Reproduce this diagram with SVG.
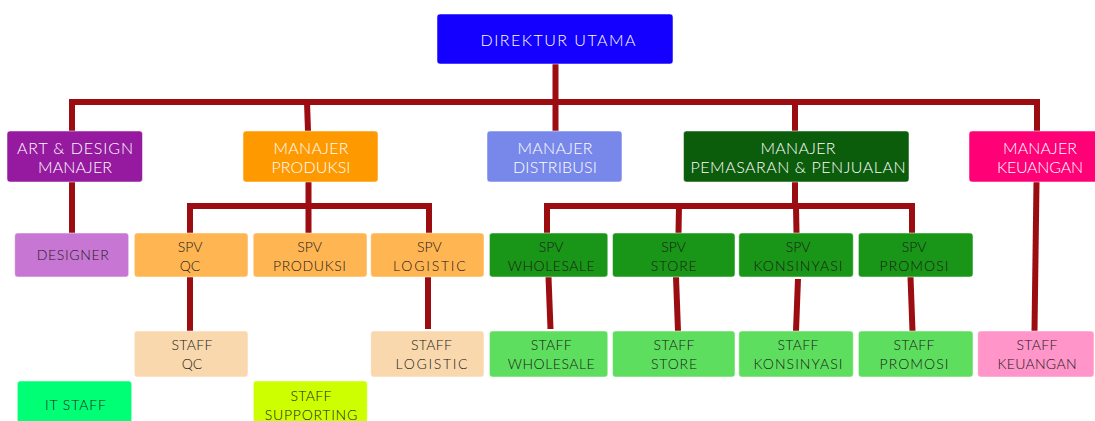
<svg xmlns="http://www.w3.org/2000/svg" width="1095" height="421" viewBox="0 0 1095 421">
<style>
.b{stroke:#ffffff;stroke-opacity:0.5;stroke-width:1}
.tw{font-family:Lato,"Liberation Sans",sans-serif;font-size:16px;font-weight:300;fill:#ffffff;text-anchor:middle}
.td{font-family:Lato,"Liberation Sans",sans-serif;font-size:14px;font-weight:300;fill:#1a1a1a;text-anchor:middle}
.c{fill:none;stroke:#9c0d12;stroke-width:6;stroke-linejoin:miter}
</style>
<rect width="1095" height="421" fill="#ffffff"/>
<g id="connectors">
<path class="c" d="M555.5,64 V102"/>
<path class="c" d="M72,131 V102 H1037 V131"/>
<path class="c" d="M307,102 L308,131"/>
<path class="c" d="M555.5,102 V131"/>
<path class="c" d="M795,102 V131"/>
<path class="c" d="M72,182 V233"/>
<path class="c" d="M308.5,182 V206"/>
<path class="c" d="M190,233 V206 H429 V233"/>
<path class="c" d="M308.5,206 V233"/>
<path class="c" d="M795,182 V206"/>
<path class="c" d="M547,233 V206 H912 V233"/>
<path class="c" d="M679,206 L678.5,233"/>
<path class="c" d="M796,206 L796.5,233"/>
<path class="c" d="M1036.5,182 L1034.5,331"/>
<path class="c" d="M190,277 V331"/>
<path class="c" d="M428,277 V329"/>
<path class="c" d="M548.5,277 L550.5,329"/>
<path class="c" d="M676,277 L678,331"/>
<path class="c" d="M798,279 L796,331"/>
<path class="c" d="M910.5,277 L912.5,331"/>
</g>
<g id="direktur">
<rect class="b" x="437" y="14" width="236" height="50" rx="3" fill="#1400ff"/>
<text class="tw" x="558" y="46" font-size="17" textLength="155" lengthAdjust="spacing">DIREKTUR UTAMA</text>
</g>
<g id="art-design">
<rect class="b" x="7" y="131" width="135.5" height="51" rx="3" fill="#951a9f"/>
<text class="tw" x="75" y="154" textLength="116" lengthAdjust="spacing">ART &amp; DESIGN</text>
<text class="tw" x="75" y="173" textLength="74" lengthAdjust="spacing">MANAJER</text>
</g>
<g id="manajer-produksi">
<rect class="b" x="243" y="131" width="135" height="51" rx="3" fill="#ff9900"/>
<text class="tw" x="311" y="154" textLength="75" lengthAdjust="spacing">MANAJER</text>
<text class="tw" x="311" y="173" textLength="79" lengthAdjust="spacing">PRODUKSI</text>
</g>
<g id="manajer-distribusi">
<rect class="b" x="487" y="131" width="135" height="51" rx="3" fill="#7888ea"/>
<text class="tw" x="555" y="154" textLength="75" lengthAdjust="spacing">MANAJER</text>
<text class="tw" x="555" y="173" textLength="84" lengthAdjust="spacing">DISTRIBUSI</text>
</g>
<g id="manajer-pemasaran">
<rect class="b" x="683.5" y="131" width="225.5" height="51" rx="3" fill="#0b5c0b"/>
<text class="tw" x="798" y="154" textLength="75" lengthAdjust="spacing">MANAJER</text>
<text class="tw" x="798" y="173" textLength="215" lengthAdjust="spacing">PEMASARAN &amp; PENJUALAN</text>
</g>
<g id="manajer-keuangan">
<rect class="b" x="969" y="131" width="140" height="51" rx="3" fill="#ff0077"/>
<text class="tw" x="1040" y="154" textLength="74" lengthAdjust="spacing">MANAJER</text>
<text class="tw" x="1040" y="173" textLength="86" lengthAdjust="spacing">KEUANGAN</text>
</g>
<g id="designer">
<rect class="b" x="14.7" y="233" width="114" height="44" rx="3" fill="#c777d3"/>
<text class="td" x="72.7" y="259.5" textLength="72" lengthAdjust="spacing">DESIGNER</text>
</g>
<g id="spv-qc">
<rect class="b" x="134.3" y="233" width="113.7" height="44" rx="3" fill="#ffb552"/>
<text class="td" x="190" y="252">SPV</text>
<text class="td" x="190" y="270.5">QC</text>
</g>
<g id="spv-produksi">
<rect class="b" x="253.2" y="233" width="113.8" height="44" rx="3" fill="#ffb552"/>
<text class="td" x="309.5" y="252">SPV</text>
<text class="td" x="309.5" y="270.5" textLength="73" lengthAdjust="spacing">PRODUKSI</text>
</g>
<g id="spv-logistic">
<rect class="b" x="370.7" y="233" width="113.3" height="44" rx="3" fill="#ffb552"/>
<text class="td" x="429.4" y="252">SPV</text>
<text class="td" x="429.4" y="270.5" textLength="72.6" lengthAdjust="spacing">LOGISTIC</text>
</g>
<g id="spv-wholesale">
<rect class="b" x="489.4" y="233" width="118.4" height="44" rx="3" fill="#199617"/>
<text class="td" x="551.2" y="252">SPV</text>
<text class="td" x="551.2" y="270.5" textLength="87" lengthAdjust="spacing">WHOLESALE</text>
</g>
<g id="spv-store">
<rect class="b" x="612.5" y="233" width="122.5" height="44" rx="3" fill="#199617"/>
<text class="td" x="673.7" y="252">SPV</text>
<text class="td" x="673.7" y="270.5" textLength="46" lengthAdjust="spacing">STORE</text>
</g>
<g id="spv-konsinyasi">
<rect class="b" x="738.8" y="233" width="114.5" height="44" rx="3" fill="#199617"/>
<text class="td" x="798" y="252">SPV</text>
<text class="td" x="798" y="270.5" textLength="89" lengthAdjust="spacing">KONSINYASI</text>
</g>
<g id="spv-promosi">
<rect class="b" x="858.4" y="233" width="114.6" height="44" rx="3" fill="#199617"/>
<text class="td" x="914" y="252">SPV</text>
<text class="td" x="914" y="270.5" textLength="69" lengthAdjust="spacing">PROMOSI</text>
</g>
<g id="staff-qc">
<rect class="b" x="134.3" y="331" width="113.7" height="46" rx="3" fill="#f9d8ae"/>
<text class="td" x="192" y="350" textLength="41" lengthAdjust="spacing">STAFF</text>
<text class="td" x="192" y="368.5">QC</text>
</g>
<g id="staff-logistic">
<rect class="b" x="370.7" y="331" width="113.3" height="46" rx="3" fill="#f9d8ae"/>
<text class="td" x="431.5" y="350" textLength="41" lengthAdjust="spacing">STAFF</text>
<text class="td" x="431.5" y="368.5" textLength="72" lengthAdjust="spacing">LOGISTIC</text>
</g>
<g id="staff-wholesale">
<rect class="b" x="489.4" y="331" width="118.4" height="46" rx="3" fill="#5ede5e"/>
<text class="td" x="551.2" y="350" textLength="41" lengthAdjust="spacing">STAFF</text>
<text class="td" x="551.2" y="368.5" textLength="87" lengthAdjust="spacing">WHOLESALE</text>
</g>
<g id="staff-store">
<rect class="b" x="612.5" y="331" width="122.5" height="46" rx="3" fill="#5ede5e"/>
<text class="td" x="674" y="350" textLength="41" lengthAdjust="spacing">STAFF</text>
<text class="td" x="674" y="368.5" textLength="46" lengthAdjust="spacing">STORE</text>
</g>
<g id="staff-konsinyasi">
<rect class="b" x="738.8" y="331" width="114.5" height="46" rx="3" fill="#5ede5e"/>
<text class="td" x="798" y="350" textLength="41" lengthAdjust="spacing">STAFF</text>
<text class="td" x="798" y="368.5" textLength="89" lengthAdjust="spacing">KONSINYASI</text>
</g>
<g id="staff-promosi">
<rect class="b" x="858.4" y="331" width="114.6" height="46" rx="3" fill="#5ede5e"/>
<text class="td" x="914" y="350" textLength="41" lengthAdjust="spacing">STAFF</text>
<text class="td" x="914" y="368.5" textLength="69" lengthAdjust="spacing">PROMOSI</text>
</g>
<g id="staff-keuangan">
<rect class="b" x="977.7" y="331" width="116.3" height="46" rx="3" fill="#ff95c8"/>
<text class="td" x="1037" y="350" textLength="41" lengthAdjust="spacing">STAFF</text>
<text class="td" x="1037" y="368.5" textLength="79" lengthAdjust="spacing">KEUANGAN</text>
</g>
<g id="it-staff">
<rect class="b" x="17.3" y="381" width="114.4" height="50" rx="3" fill="#00ff74"/>
<text class="td" x="75.5" y="409.5" textLength="61" lengthAdjust="spacing">IT STAFF</text>
</g>
<g id="staff-supporting">
<rect class="b" x="253.3" y="381" width="114" height="50" rx="3" fill="#cdff00"/>
<text class="td" x="311" y="401" textLength="41" lengthAdjust="spacing">STAFF</text>
<text class="td" x="311" y="419.5" textLength="92.5" lengthAdjust="spacing">SUPPORTING</text>
</g>
</svg>
